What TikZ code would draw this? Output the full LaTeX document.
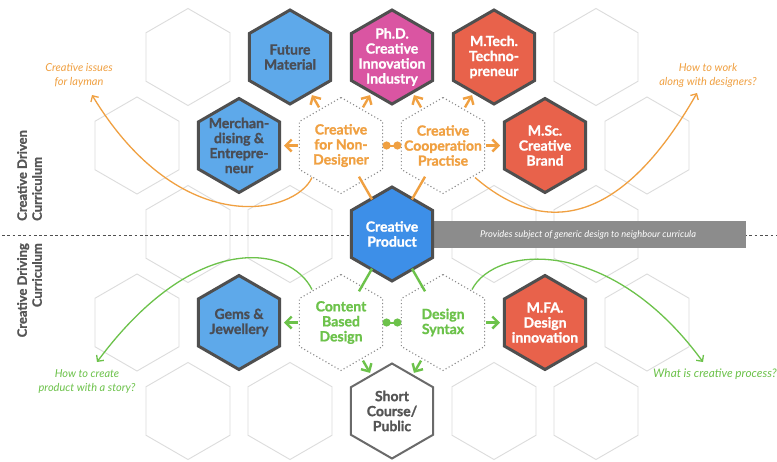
\documentclass[tikz,border=0pt]{standalone}
\usepackage{fontspec}
\setmainfont{Lato}[BoldFeatures={FakeBold=1.3}]
\usetikzlibrary{arrows.meta,calc}

\definecolor{hexgray}{HTML}{DCDCDC}
\definecolor{bord}{HTML}{4F4F4F}
\definecolor{lblue}{HTML}{5EA9EA}
\definecolor{cblue}{HTML}{3D8FE8}
\definecolor{magen}{HTML}{DA55A2}
\definecolor{redor}{HTML}{E8624B}
\definecolor{orng}{HTML}{F0A041}
\definecolor{grn}{HTML}{6CC24A}
\definecolor{dtext}{HTML}{4A4D55}
\definecolor{bargray}{HTML}{8C8C8C}
\definecolor{dotgray}{HTML}{8A8A8A}
\definecolor{scgray}{HTML}{6A6A6A}
\definecolor{lbltext}{HTML}{555555}

\newcommand{\hexpath}[3]{\draw[#2] (#1) +(90:#3) -- +(150:#3) -- +(210:#3) -- +(270:#3) -- +(330:#3) -- +(30:#3) -- cycle;}
\newcommand{\grayhex}[3]{\coordinate (#1) at (#2,#3); \hexpath{#1}{grayhex}{48.5pt}}
\newcommand{\hexnode}[7]{\coordinate (#1) at (#2,#3); \hexpath{#1}{#4}{#5}\node[#6] (#1-t) at (#1) {#7};}

\begin{document}
\begin{tikzpicture}[x=1pt,y=-1pt,
  grayhex/.style={draw=hexgray, line width=0.9pt, fill=white},
  colhex/.style={draw=bord, line width=3pt, line join=miter},
  bluehex/.style={colhex, fill=lblue},
  cphex/.style={colhex, fill=cblue},
  maghex/.style={colhex, fill=magen},
  redhex/.style={colhex, fill=redor},
  schex/.style={draw=scgray, line width=2pt, fill=white},
  dothex/.style={draw=dotgray, line width=1.1pt, dash pattern=on 1.1pt off 2.4pt, fill=white},
  htxt/.style={align=center, inner sep=0pt, font=\fontsize{14}{15}\selectfont\bfseries},
  darktxt/.style={htxt, text=dtext},
  whitetxt/.style={htxt, text=white},
  orangetxt/.style={htxt, text=orng},
  greentxt/.style={htxt, text=grn},
  sctxt/.style={htxt, text=lbltext},
  oarr/.style={draw=orng, line width=2.4pt, -{Straight Barb[length=6pt,width=12pt]}},
  garr/.style={draw=grn, line width=2.4pt, -{Straight Barb[length=6pt,width=12pt]}},
  oline/.style={draw=orng, line width=2.4pt},
  gline/.style={draw=grn, line width=2.4pt},
  odots/.style={draw=orng, line width=2pt, {Circle[length=8pt]}-{Circle[length=8pt]}},
  gdots/.style={draw=grn, line width=2pt, {Circle[length=8pt]}-{Circle[length=8pt]}},
  ocurve/.style={draw=orng, line width=1.3pt, -{Straight Barb[length=4.5pt,width=9pt]}},
  gcurve/.style={draw=grn, line width=1.3pt, -{Straight Barb[length=4.5pt,width=9pt]}},
  qlabel/.style={align=center, inner sep=0pt, font=\fontsize{11}{14}\selectfont\itshape},
  sidelabel/.style={rotate=90, inner sep=0pt, text=lbltext, font=\fontsize{13}{15}\selectfont\bfseries},
  dashline/.style={draw=bord, line width=1pt, dash pattern=on 2.8pt off 2.5pt}
]
\useasboundingbox (0,0) rectangle (777,461);
\fill[white] (0,0) rectangle (777,461);

% background grid hexagons
\grayhex{ga}{188}{57}
\grayhex{gb}{596}{57}
\grayhex{gc}{137}{145.5}
\grayhex{gd}{647}{145.5}
\grayhex{ge}{188}{234}
\grayhex{gf}{290}{234}
\grayhex{gg}{494}{234}
\grayhex{gh}{596}{234}
\grayhex{gi}{137}{322.5}
\grayhex{gj}{647}{322.5}
\grayhex{gk}{188}{411}
\grayhex{gl}{290}{411}
\grayhex{gm}{494}{411}
\grayhex{gn}{596}{411}

% divider
\draw[dashline] (2,235) -- (777,235);

% bar
\fill[bargray] (420,221) rectangle (746,248);
\node[inner sep=0pt, text=white, font=\fontsize{9.3}{10}\selectfont\itshape] (bar) at (588,235) {Provides subject of generic design to neighbour curricula};

% question labels
\node[qlabel, text=orng] (q1) at (79,75) {Creative issues\\for layman};
\node[qlabel, text=orng] (q2) at (708,75) {How to work\\along with designers?};
\node[qlabel, text=grn] (q3) at (87,381) {How to create\\product with a story?};
\node[qlabel, text=grn, font=\fontsize{11.8}{14}\selectfont\itshape] (q4) at (715,374) {What is creative process?};
\coordinate (q1tip) at (92,95);
\coordinate (q2tip) at (697,93);
\coordinate (q3tip) at (97,362);
\coordinate (q4tip) at (703,362);

% main hexagons
\hexnode{fm}{290}{57}{bluehex}{47pt}{darktxt}{Future\\Material}
\hexnode{phd}{392}{57}{maghex}{47pt}{whitetxt}{Ph.D.\\Creative\\Innovation\\Industry}
\hexnode{mtech}{494}{57}{redhex}{47pt}{whitetxt}{M.Tech.\\Techno-\\preneur}
\hexnode{merch}{239}{145.5}{bluehex}{47pt}{darktxt}{Merchan-\\dising \&\\Entrepre-\\neur}
\hexnode{msc}{545}{145.5}{redhex}{47pt}{whitetxt}{M.Sc.\\Creative\\Brand}
\hexnode{gems}{239}{322.5}{bluehex}{47pt}{darktxt}{Gems \&\\Jewellery}
\hexnode{mfa}{545}{322.5}{redhex}{47pt}{whitetxt}{M.FA.\\Design\\innovation}
\hexnode{sc}{392}{411}{schex}{47.5pt}{sctxt}{Short\\Course/\\Public}

% curves (drawn before dotted hexes)
\coordinate (nd) at (341,145.5);
\coordinate (coop) at (443,145.5);
\coordinate (cb) at (341,322.5);
\coordinate (ds) at (443,322.5);
\draw[ocurve] ($(nd)+(-29,32)$) .. controls (295,215) and (180,240) .. (q1tip);
\draw[ocurve] ($(coop)+(32,32)$) .. controls (530,225) and (610,245) .. (q2tip);
\draw[gcurve] ($(cb)+(-29,-33)$) .. controls (290,245) and (195,230) .. (q3tip);
\draw[gcurve] ($(ds)+(29,-33)$) .. controls (495,245) and (610,235) .. (q4tip);

\hexnode{nd}{341}{145.5}{dothex}{48pt}{orangetxt}{Creative\\for Non-\\Designer}
\hexnode{coop}{443}{145.5}{dothex}{48pt}{orangetxt}{Creative\\Cooperation\\Practise}
\hexnode{cb}{341}{322.5}{dothex}{48pt}{greentxt}{Content\\Based\\Design}
\hexnode{ds}{443}{322.5}{dothex}{48pt}{greentxt}{Design\\Syntax}
\hexnode{cp}{392}{234}{cphex}{47pt}{whitetxt}{Creative\\Product}

% orange connectors
\draw[oarr] ($(nd)!44pt!(fm)$) -- ($(fm)!44pt!(nd)$);
\draw[oarr] ($(nd)!44pt!(phd)$) -- ($(phd)!44pt!(nd)$);
\draw[oarr] ($(nd)!43pt!(merch)$) -- ($(merch)!45pt!(nd)$);
\draw[oarr] ($(coop)!44pt!(phd)$) -- ($(phd)!44pt!(coop)$);
\draw[oarr] ($(coop)!44pt!(mtech)$) -- ($(mtech)!44pt!(coop)$);
\draw[oarr] ($(coop)!43pt!(msc)$) -- ($(msc)!45pt!(coop)$);
\draw[odots] ($(nd)!41.6pt!(coop)$) -- ($(coop)!41.6pt!(nd)$);
\draw[oline] ($(cp)!40pt!(nd)$) -- ($(nd)!36pt!(cp)$);
\draw[oline] ($(cp)!40pt!(coop)$) -- ($(coop)!36pt!(cp)$);

% green connectors
\draw[garr] ($(cb)!43pt!(gems)$) -- ($(gems)!45pt!(cb)$);
\draw[garr] ($(cb)!44pt!(sc)$) -- ($(sc)!44pt!(cb)$);
\draw[garr] ($(ds)!44pt!(sc)$) -- ($(sc)!44pt!(ds)$);
\draw[garr] ($(ds)!43pt!(mfa)$) -- ($(mfa)!45pt!(ds)$);
\draw[gdots] ($(cb)!41.6pt!(ds)$) -- ($(ds)!41.6pt!(cb)$);
\draw[gline] ($(cp)!40pt!(cb)$) -- ($(cb)!36pt!(cp)$);
\draw[gline] ($(cp)!40pt!(ds)$) -- ($(ds)!36pt!(cp)$);

% side labels
\node[sidelabel, align=left, anchor=west] (side1) at (29.5,221) {Creative Driven\\Curriculum};
\node[sidelabel, align=right, anchor=east] (side2) at (29.5,243) {Creative Driving\\Curriculum};
\end{tikzpicture}
\end{document}
